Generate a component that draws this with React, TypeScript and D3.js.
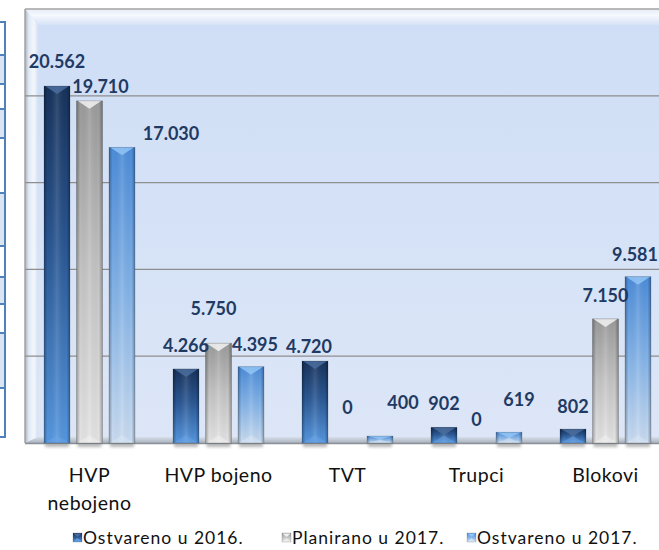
import React from 'react';
import * as d3 from 'd3';

// chart values
const categories = ['HVP nebojeno', 'HVP bojeno', 'TVT', 'Trupci', 'Blokovi'];
const categoryLines = [['HVP', 'nebojeno'], ['HVP bojeno'], ['TVT'], ['Trupci'], ['Blokovi']];
const seriesNames = ['Ostvareno u 2016.', 'Planirano u 2017.', 'Ostvareno u 2017.'];
const ostvareno2016 = [20562, 4266, 4720, 902, 802];
const planirano2017 = [19710, 5750, 0, 0, 7150];
const ostvareno2017 = [17030, 4395, 400, 619, 9581];
const gridValues = [5000, 10000, 15000, 20000];

const seriesValues = [ostvareno2016, planirano2017, ostvareno2017];

// label nudges (dx, dy from bar top) — excel 3d places them a bit oddly
const labelNudge = [
  [[0, -18], [0, -17], [-6, -8], [0, -17], [0, -16]],
  [[11, -8], [-5, -28], [0, -29], [0, -17], [0, -17]],
  [[49, -7], [4, -16], [23, -27], [10, -26], [-3, -16]],
];

const bodyStops = [
  [['0', '#17325b'], ['0.45', '#2a5793'], ['1', '#5597e0']],
  [['0', '#9a9a9a'], ['0.5', '#c4c4c4'], ['1', '#e4e4e4']],
  [['0', '#4c8cd9'], ['0.5', '#85b4e8'], ['1', '#cadcf1']],
];
const topTri = ['#4a6d9e', '#f2f2f2', '#92c4f5'];
const botTri = ['#6fa6e6', '#f4f4f4', '#dde9f6'];
const legendX = [73, 282, 467];
const tableRows = [22, 55, 84, 109, 138, 193, 246, 277, 304, 333, 388, 437];

const fmt = d3.formatLocale({ decimal: ',', thousands: '.', grouping: [3], currency: ['', ''] }).format(',d');

export default function App() {
  const width = 659, height = 550;
  const left = 25, top = 9, right = 700, base = 443;

  const x0 = d3.scaleBand<string>().domain(categories).range([25, 670]).padding(0);
  const x1 = d3.scaleBand<number>().domain([0, 1, 2]).range([0, x0.bandwidth()])
    .paddingInner(0.2).paddingOuter(0.585);
  const y = d3.scaleLinear().domain([0, 25000]).range([base, top]);

  const font = "Lato, 'Open Sans', sans-serif";

  const bars: React.ReactNode[] = [];
  const labels: React.ReactNode[] = [];
  seriesValues.forEach((vals, s) => {
    vals.forEach((v, i) => {
      const bx = (x0(categories[i]) || 0) + (x1(s) || 0);
      const bw = x1.bandwidth();
      const by = y(v);
      const bh = y(0) - by;
      const cx = bx + bw / 2;
      if (bh >= 1) {
        const t = Math.min(8, bh / 2);
        bars.push(
          <g key={`b${s}-${i}`}>
            <rect x={bx + 1} y={base} width={bw - 2} height={4} fill="#7a7a7a" opacity={0.55} filter="url(#blur)" />
            <rect x={bx} y={by} width={bw} height={bh} fill={`url(#body${s})`} />
            <rect x={bx} y={by} width={bw} height={bh} fill="url(#edge)" />
            <polygon points={`${bx + 1},${by} ${bx + bw - 1},${by} ${cx},${by + t}`} fill={topTri[s]} opacity={0.85} />
            <polygon points={`${bx + 1},${base} ${bx + bw - 1},${base} ${cx},${base - t}`} fill={botTri[s]} opacity={0.45} />
            <rect x={bx} y={by} width={bw} height={bh} fill="none" stroke="#000" strokeOpacity={0.2} strokeWidth={0.8} />
          </g>
        );
      }
      const [dx, dy] = labelNudge[s][i];
      labels.push(
        <text key={`l${s}-${i}`} x={cx + dx} y={by + dy} textAnchor="middle"
          fontFamily={font} fontWeight={700} fontSize={18} fill="#1f3a63">{fmt(v)}</text>
      );
    });
  });

  return (
    <div style={{ position: 'fixed', left: 0, top: 0 }}>
      <svg width={width} height={height} style={{ display: 'block', background: '#fff' }}>
        <defs>
          {bodyStops.map((stops, s) => (
            <linearGradient key={s} id={`body${s}`} x1="0" y1="0" x2="0" y2="1">
              {stops.map(([o, c]) => <stop key={o} offset={o} stopColor={c} />)}
            </linearGradient>
          ))}
          <linearGradient id="edge" x1="0" y1="0" x2="1" y2="0">
            <stop offset="0" stopColor="#000" stopOpacity={0.3} />
            <stop offset="0.14" stopColor="#000" stopOpacity={0} />
            <stop offset="0.5" stopColor="#fff" stopOpacity={0.12} />
            <stop offset="0.86" stopColor="#000" stopOpacity={0} />
            <stop offset="1" stopColor="#000" stopOpacity={0.3} />
          </linearGradient>
          <linearGradient id="wall" x1="0" y1="0" x2="0" y2="1">
            <stop offset="0" stopColor="#cfdef6" />
            <stop offset="1" stopColor="#dce6f7" />
          </linearGradient>
          <linearGradient id="topBevel" x1="0" y1="0" x2="0" y2="1">
            <stop offset="0" stopColor="#e6edf8" />
            <stop offset="0.4" stopColor="#f6f9fd" />
            <stop offset="1" stopColor="#d6e2f6" />
          </linearGradient>
          <linearGradient id="leftBevel" x1="0" y1="0" x2="1" y2="0">
            <stop offset="0" stopColor="#aab4c2" />
            <stop offset="0.3" stopColor="#e3eaf5" />
            <stop offset="0.7" stopColor="#f3f7fc" />
            <stop offset="1" stopColor="#d4e0f3" />
          </linearGradient>
          <linearGradient id="floor" x1="0" y1="0" x2="0" y2="1">
            <stop offset="0" stopColor="#d7dfea" />
            <stop offset="1" stopColor="#a9b1bc" />
          </linearGradient>
          <filter id="blur" x="-20%" y="-100%" width="140%" height="300%">
            <feGaussianBlur stdDeviation="1.5" />
          </filter>
        </defs>

        {/* cropped table at the left edge */}
        <g>
          {tableRows.slice(0, -1).map((r, k) => (
            k % 2 === 1 ? <rect key={`tf${k}`} x={0} y={r} width={5} height={tableRows[k + 1] - r} fill="#dbe5f1" /> : null
          ))}
          {tableRows.map(r => <line key={`tr${r}`} x1={0} x2={6} y1={r} y2={r} stroke="#4f81bd" strokeWidth={2} />)}
          <line x1={5} x2={5} y1={tableRows[0]} y2={tableRows[tableRows.length - 1]} stroke="#4f81bd" strokeWidth={2} />
        </g>

        {/* walls */}
        <rect x={left} y={top} width={right - left} height={base - top} fill="url(#wall)" />
        <polygon points={`${left},${top} ${right},${top} ${right},${top + 16} ${left + 13},${top + 16}`} fill="url(#topBevel)" />
        <polygon points={`${left},${top} ${left + 13},${top + 16} ${left + 13},${base - 6} ${left},${base}`} fill="url(#leftBevel)" />
        <line x1={left} x2={right} y1={top} y2={top} stroke="#a3a3a3" strokeWidth={1.5} />
        <line x1={left} x2={left} y1={top} y2={base} stroke="#a3a3a3" strokeWidth={1.5} />

        {gridValues.map(g => (
          <line key={g} x1={left} x2={right} y1={y(g)} y2={y(g)} stroke="#8e8e8e" strokeWidth={1.3} />
        ))}

        <polygon points={`${left},${base} ${left + 13},${base - 6} ${right},${base - 6} ${right},${base}`} fill="url(#floor)" />
        <line x1={left} x2={right} y1={base + 0.5} y2={base + 0.5} stroke="#8a9099" strokeWidth={1.5} />

        {bars}
        {labels}

        {/* category axis */}
        {categoryLines.map((lines, i) => (
          <text key={categories[i]} x={(x0(categories[i]) || 0) + x0.bandwidth() / 2} y={482}
            textAnchor="middle" fontFamily={font} fontSize={19.5} letterSpacing={0.5} fill="#111">
            {lines.map((ln, k) => <tspan key={k} x={(x0(categories[i]) || 0) + x0.bandwidth() / 2} dy={k === 0 ? 0 : 28}>{ln}</tspan>)}
          </text>
        ))}

        {/* legend */}
        {seriesNames.map((name, s) => (
          <g key={name} transform={`translate(${legendX[s]},533)`}>
            <rect x={0} y={0} width={9} height={9} fill={`url(#body${s})`} stroke="#000" strokeOpacity={0.25} strokeWidth={0.6} />
            <polygon points="0.5,0.5 8.5,0.5 4.5,4" fill={topTri[s]} />
            <polygon points="0.5,8.5 8.5,8.5 4.5,5" fill={botTri[s]} opacity={0.7} />
            <text x={10} y={11} fontFamily={font} fontSize={17.5} letterSpacing={1} fill="#111">{name}</text>
          </g>
        ))}
      </svg>
    </div>
  );
}
